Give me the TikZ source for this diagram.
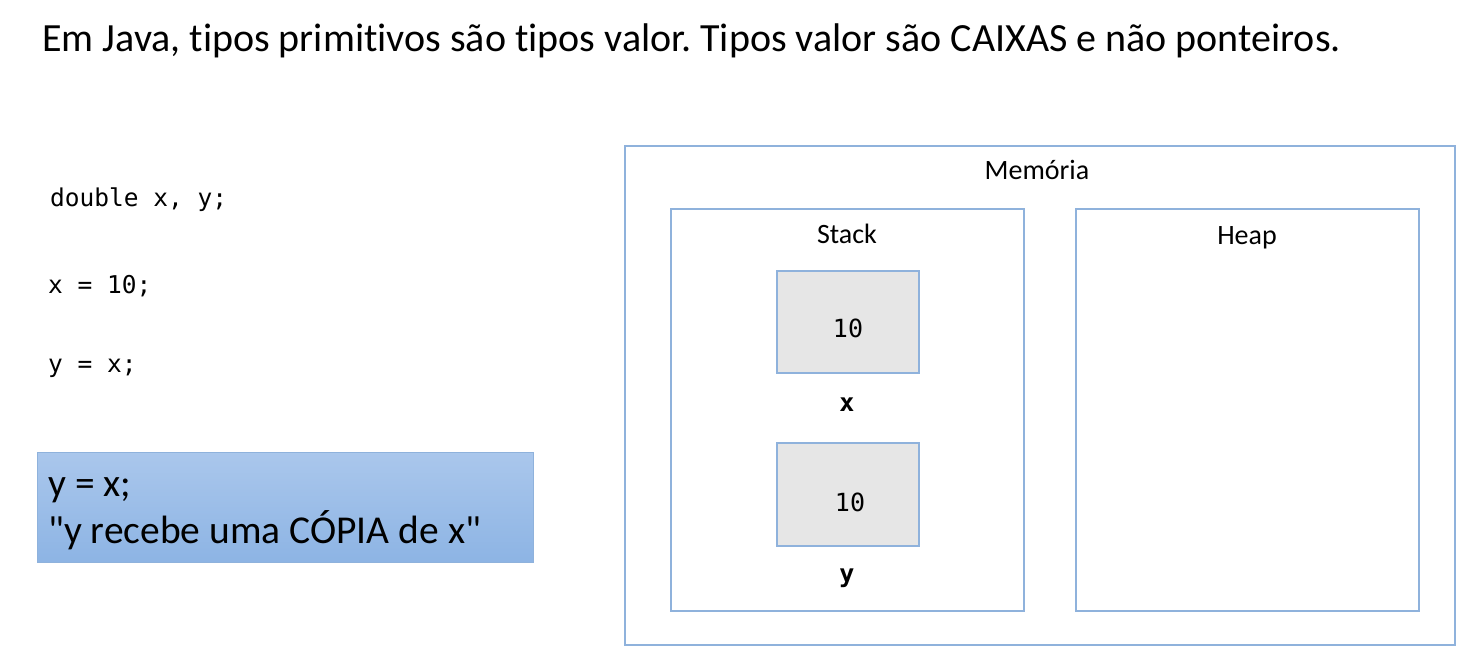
\documentclass[tikz,border=0pt]{standalone}
\usepackage{fontspec}
\setmainfont{Carlito}[Ligatures={NoCommon,TeXOff}]
\newfontfamily\monofont{DejaVu Sans Mono}
\definecolor{edgeblue}{RGB}{143,178,220}
\definecolor{cellgray}{RGB}{230,230,230}
\definecolor{topblue}{RGB}{170,199,236}
\definecolor{botblue}{RGB}{141,180,228}
\frenchspacing
\begin{document}
\begin{tikzpicture}[x=1pt,y=-1pt,
  frame/.style={draw=edgeblue,line width=1.2pt},
  cell/.style={draw=edgeblue,line width=1.2pt,fill=cellgray},
  title/.style={anchor=base west,inner sep=0,font=\fontsize{40}{48}\selectfont},
  lbl/.style={anchor=base,inner sep=0,font=\fontsize{28}{34}\selectfont},
  code/.style={anchor=base west,inner sep=0,font=\monofont\fontsize{24.5}{28}\selectfont},
  val/.style={anchor=base,inner sep=0,font=\monofont\fontsize{25}{30}\selectfont},
  var/.style={anchor=base,inner sep=0,font=\monofont\bfseries\fontsize{25}{30}\selectfont},
  note/.style={anchor=base west,inner sep=0,font=\fontsize{39.5}{46}\selectfont}]
\path[use as bounding box,fill=white] (0,0) rectangle (1474,658);
\node[title] (t) at (42,52) {Em Java, tipos primitivos são tipos valor. Tipos valor são CAIXAS e não ponteiros.};
% memory
\draw[frame] (625,146) rectangle (1455,645);
\node[lbl] (mem) at (1037,179) {Memória};
\draw[frame] (671,209) rectangle (1024,611);
\node[lbl] (stack) at (847,243) {Stack};
\draw[frame] (1076,209) rectangle (1419,611);
\node[lbl] (heap) at (1247,244) {Heap};
\draw[cell] (777,271) rectangle (919,373);
\node[val] (vx) at (848,337) {10};
\node[var] (lx) at (847,411) {x};
\draw[cell] (777,443) rectangle (919,546);
\node[val] (vy) at (850,511) {10};
\node[var] (ly) at (847,582) {y};
% code
\node[code] (c1) at (50,206) {double x, y;};
\node[code] (c2) at (48,293) {x = 10;};
\node[code] (c3) at (48,372) {y = x;};
% note box
\shade[top color=topblue,bottom color=botblue,draw=edgeblue,line width=1pt] (37,452) rectangle (533,562);
\node[note] (n1) at (48,496) {y = x;};
\node[note] (n2) at (48,543) {"y recebe uma CÓPIA de x"};
\end{tikzpicture}
\end{document}
